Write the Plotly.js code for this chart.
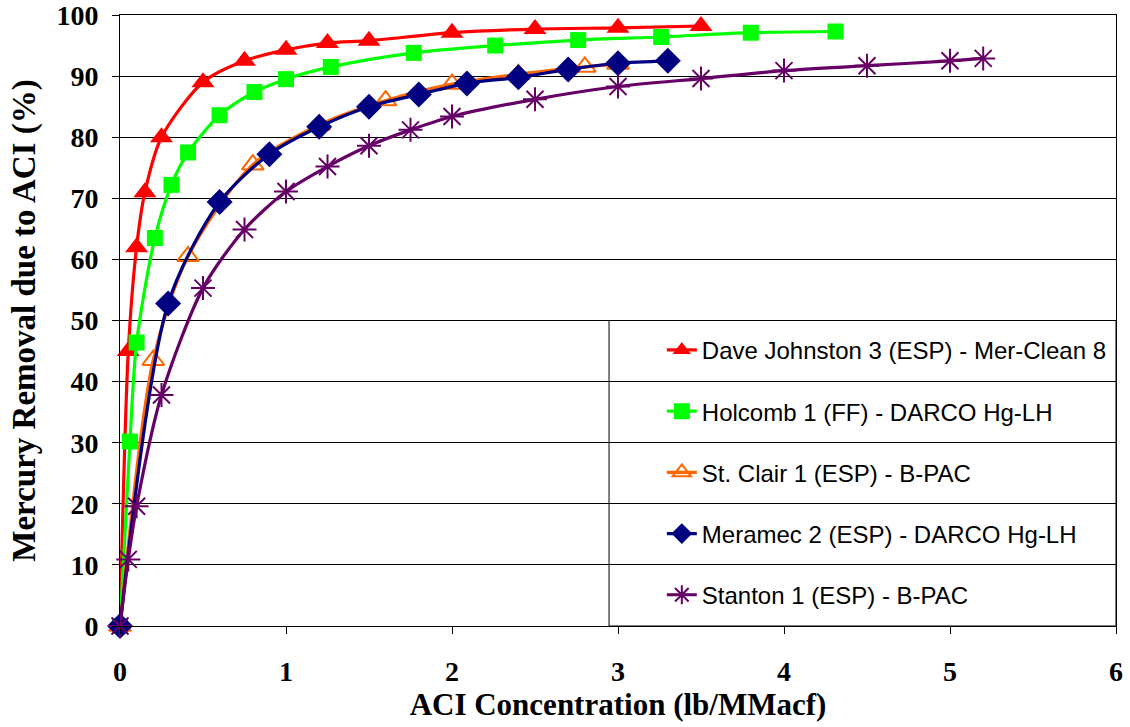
<!DOCTYPE html>
<html>
<head>
<meta charset="utf-8">
<script src="https://cdn.plot.ly/plotly-3.0.1.min.js"></script>
<style>html,body{margin:0;padding:0;background:#fff;}#chart{width:1130px;height:727px;}</style>
</head>
<body>
<div id="chart"></div>
<script>
// Dave Johnston 3 (ESP) - Mer-Clean 8
const djX = [0, 0.05, 0.1, 0.15, 0.25, 0.5, 0.75, 1.0, 1.25, 1.5, 2.0, 2.5, 3.0, 3.5];
const djY = [0, 45, 62, 71, 80, 89, 92.5, 94.3, 95.4, 95.8, 97.1, 97.7, 97.9, 98.2];
// Holcomb 1 (FF) - DARCO Hg-LH
const hcX = [0, 0.06, 0.1, 0.21, 0.31, 0.41, 0.6, 0.81, 1.0, 1.27, 1.77, 2.26, 2.76, 3.26, 3.8, 4.31];
const hcY = [0, 30.2, 46.4, 63.5, 72.2, 77.5, 83.6, 87.4, 89.5, 91.5, 93.8, 95.0, 95.9, 96.4, 97.1, 97.3];
// St. Clair 1 (ESP) - B-PAC
const scX = [0, 0.2, 0.41, 0.8, 1.2, 1.6, 2.0, 2.4, 2.8, 3.0];
const scY = [0, 43.5, 60.5, 75.5, 82, 86, 88.7, 90.3, 91.5, 92];
// Meramec 2 (ESP) - DARCO Hg-LH
const mrX = [0, 0.29, 0.6, 0.9, 1.2, 1.5, 1.8, 2.09, 2.4, 2.7, 3.0, 3.3];
const mrY = [0, 52.8, 69.4, 77.2, 81.7, 85.0, 87.0, 88.8, 89.8, 91.1, 92.1, 92.5];
// Stanton 1 (ESP) - B-PAC
const stX = [0, 0.05, 0.1, 0.25, 0.5, 0.75, 1.0, 1.25, 1.5, 1.75, 2.0, 2.5, 3.0, 3.5, 4.0, 4.5, 5.0, 5.2];
const stY = [0, 10.9, 19.6, 37.8, 55.3, 64.9, 71.1, 75.2, 78.6, 81.2, 83.4, 86.2, 88.3, 89.6, 90.9, 91.7, 92.5, 92.9];

const seriesNames = [
  'Dave Johnston 3 (ESP) - Mer-Clean 8',
  'Holcomb 1 (FF) - DARCO Hg-LH',
  'St. Clair 1 (ESP) - B-PAC',
  'Meramec 2 (ESP) - DARCO Hg-LH',
  'Stanton 1 (ESP) - B-PAC'
];
const xTickVals = [0, 1, 2, 3, 4, 5, 6];
const yTickVals = [0, 10, 20, 30, 40, 50, 60, 70, 80, 90, 100];

function mk(x, y, name, color, symbol, size, group, lw) {
  return {
    x: x, y: y, name: name, type: 'scatter', mode: 'lines+markers',
    legendgroup: group, cliponaxis: false,
    line: {color: color, width: 3.2, shape: 'spline', smoothing: 0.8},
    marker: {color: color, symbol: symbol, size: size, line: {color: color, width: lw}}
  };
}

const traces = [
  mk(djX, djY, seriesNames[0], '#FF0000', 'triangle-up', 20, 'g1', 0),
  mk(hcX, hcY, seriesNames[1], '#00FF00', 'square', 16, 'g2', 0),
  mk(scX, scY, seriesNames[2], '#FF6600', 'triangle-up-open', 19, 'g3', 2),
  mk(mrX, mrY, seriesNames[3], '#000080', 'diamond', 20, 'g4', 0),
  mk(stX, stY, seriesNames[4], '#660066', 'asterisk-open', 20, 'g5', 2)
];

const serif = 'Liberation Serif, Times New Roman, serif';
const layout = {
  width: 1130, height: 727,
  margin: {l: 120, r: 14, t: 15, b: 101},
  paper_bgcolor: '#fff', plot_bgcolor: '#fff',
  showlegend: true,
  legend: {
    x: 0.544, y: 0.488, xanchor: 'left', yanchor: 'top',
    bgcolor: 'rgba(0,0,0,0)', borderwidth: 0,
    font: {family: 'Liberation Sans, Arial, sans-serif', size: 24, color: '#000'},
    tracegroupgap: 27, traceorder: 'grouped'
  },
  xaxis: {
    range: [0, 6], tickvals: xTickVals, ticktext: xTickVals.map(v => '<b>' + v + '</b>'),
    showgrid: false, zeroline: false,
    showline: true, linecolor: '#000', linewidth: 1, mirror: true,
    ticks: 'outside', ticklen: 7, tickcolor: '#000',
    ticklabelstandoff: 13, ticklabeloverflow: 'allow',
    tickfont: {family: serif, size: 28, color: '#000'},
    title: {text: '<b>ACI Concentration (lb/MMacf)</b>', standoff: 6,
      font: {family: serif, size: 31, color: '#000'}}
  },
  yaxis: {
    range: [0, 100], tickvals: yTickVals, ticktext: yTickVals.map(v => '<b>' + v + '</b>'),
    showgrid: true, gridcolor: '#000', gridwidth: 1, zeroline: false,
    showline: true, linecolor: '#000', linewidth: 1, mirror: true,
    ticks: 'outside', ticklen: 7, tickcolor: '#000',
    ticklabelstandoff: 8, ticklabeloverflow: 'allow',
    tickfont: {family: serif, size: 28, color: '#000'},
    title: {text: '<b>Mercury Removal due to ACI (%)</b>', standoff: 10,
      font: {family: serif, size: 33, color: '#000'}}
  },
  shapes: [{
    type: 'rect', xref: 'paper', yref: 'paper', x0: 0.491, x1: 1, y0: 0, y1: 0.5,
    fillcolor: '#fff', line: {color: '#000', width: 1}, layer: 'between'
  }]
};

Plotly.newPlot('chart', traces, layout, {displayModeBar: false, staticPlot: true});
</script>
</body>
</html>
